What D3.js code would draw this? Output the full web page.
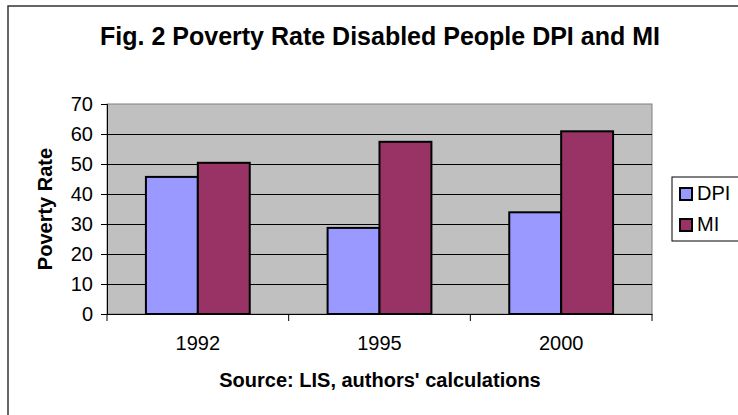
<!DOCTYPE html>
<html>
<head>
<meta charset="utf-8">
<script src="https://cdn.jsdelivr.net/npm/d3@7"></script>
<style>
  body { margin: 0; background: #fff; }
  text { font-family: "Liberation Sans", Arial, sans-serif; }
</style>
</head>
<body>
<div id="chart"></div>
<script>
// data
var years = ["1992", "1995", "2000"];
var seriesNames = ["DPI", "MI"];
var dpiValues = [45.7, 28.7, 33.9];
var miValues = [50.4, 57.4, 60.9];
var yTicks = [0, 10, 20, 30, 40, 50, 60, 70];
var seriesColors = ["#9999FF", "#993366"];

var w = 738, h = 415;
var plot = {left: 107, right: 652, top: 104, bottom: 314};

var svg = d3.select('#chart')
            .append('svg')
            .attr('width', w)
            .attr('height', h);

// outer frame
svg.append('rect')
   .attr('x', 8).attr('y', 6)
   .attr('width', 740).attr('height', 420)
   .attr('fill', '#fff')
   .attr('stroke', '#333')
   .attr('stroke-width', 1.5);

var x = d3.scaleBand()
          .domain(years)
          .range([plot.left, plot.right]);

var xInner = d3.scaleBand()
               .domain(seriesNames)
               .range([0, x.bandwidth()])
               .paddingOuter(0.75);

var y = d3.scaleLinear()
          .domain([0, 70])
          .range([plot.bottom, plot.top]);

// plot background
svg.append('rect')
   .attr('x', plot.left).attr('y', plot.top)
   .attr('width', plot.right - plot.left)
   .attr('height', plot.bottom - plot.top)
   .attr('fill', '#C0C0C0')
   .attr('stroke', '#808080')
   .attr('stroke-width', 1);

// gridlines
svg.selectAll('line.grid')
   .data(yTicks.filter(function(d) { return d > 0 && d < 70; }))
   .enter()
   .append('line')
   .attr('class', 'grid')
   .attr('x1', plot.left).attr('x2', plot.right)
   .attr('y1', function(d) { return Math.round(y(d)) + 0.5; })
   .attr('y2', function(d) { return Math.round(y(d)) + 0.5; })
   .attr('stroke', '#000')
   .attr('stroke-width', 1);

// bars
var rows = years.map(function(yr, i) {
  return {year: yr, values: [dpiValues[i], miValues[i]]};
});

var groups = svg.selectAll('g.year')
                .data(rows)
                .enter()
                .append('g')
                .attr('transform', function(d) { return 'translate(' + x(d.year) + ',0)'; });

groups.selectAll('rect')
      .data(function(d) {
        return d.values.map(function(v, j) { return {name: seriesNames[j], value: v, idx: j}; });
      })
      .enter()
      .append('rect')
      .attr('x', function(d) { return xInner(d.name); })
      .attr('y', function(d) { return y(d.value); })
      .attr('width', xInner.bandwidth())
      .attr('height', function(d) { return plot.bottom - y(d.value); })
      .attr('fill', function(d) { return seriesColors[d.idx]; })
      .attr('stroke', '#000')
      .attr('stroke-width', 2);

// y axis
var yAxis = svg.append('g')
               .attr('transform', 'translate(' + plot.left + ',0)')
               .call(d3.axisLeft(y).tickValues(yTicks).tickSize(6).tickPadding(8));
yAxis.select('.domain').attr('stroke', '#000');
yAxis.selectAll('.tick line').attr('stroke', '#000');
yAxis.selectAll('.tick text')
     .attr('font-size', '20px')
     .attr('fill', '#000')
     .style('font-family', '"Liberation Sans", Arial, sans-serif');

// x axis with ticks on category boundaries
var xAxis = svg.append('g')
               .attr('transform', 'translate(0,' + plot.bottom + ')')
               .call(d3.axisBottom(x).tickSize(0).tickPadding(22));
xAxis.select('.domain').attr('stroke', '#000');
xAxis.selectAll('.tick text')
     .attr('font-size', '20px')
     .attr('fill', '#000')
     .style('font-family', '"Liberation Sans", Arial, sans-serif');

var bounds = years.map(function(d) { return x(d); }).concat([plot.right]);
xAxis.selectAll('line.bound')
     .data(bounds)
     .enter()
     .append('line')
     .attr('class', 'bound')
     .attr('x1', function(d) { return d; }).attr('x2', function(d) { return d; })
     .attr('y1', 0).attr('y2', 7)
     .attr('stroke', '#000');

// titles
svg.append('text')
   .attr('x', 380).attr('y', 45)
   .attr('text-anchor', 'middle')
   .attr('font-size', '25px')
   .attr('font-weight', 'bold')
   .text('Fig. 2 Poverty Rate Disabled People DPI and MI');

svg.append('text')
   .attr('x', 380).attr('y', 387)
   .attr('text-anchor', 'middle')
   .attr('font-size', '20px')
   .attr('font-weight', 'bold')
   .text("Source: LIS, authors' calculations");

svg.append('text')
   .attr('transform', 'translate(52,' + ((plot.top + plot.bottom) / 2) + ') rotate(-90)')
   .attr('text-anchor', 'middle')
   .attr('font-size', '20px')
   .attr('font-weight', 'bold')
   .text('Poverty Rate');

// legend
var legend = svg.append('g');
legend.append('rect')
      .attr('x', 672).attr('y', 177)
      .attr('width', 80).attr('height', 64)
      .attr('fill', '#fff')
      .attr('stroke', '#000')
      .attr('stroke-width', 1);

var items = legend.selectAll('g.item')
                  .data(seriesNames)
                  .enter()
                  .append('g')
                  .attr('transform', function(d, i) { return 'translate(680,' + (188 + i * 31) + ')'; });
items.append('rect')
     .attr('width', 12).attr('height', 12)
     .attr('fill', function(d, i) { return seriesColors[i]; })
     .attr('stroke', '#000')
     .attr('stroke-width', 2);
items.append('text')
     .attr('x', 17).attr('y', 12)
     .attr('font-size', '20px')
     .text(function(d) { return d; });
</script>
</body>
</html>
